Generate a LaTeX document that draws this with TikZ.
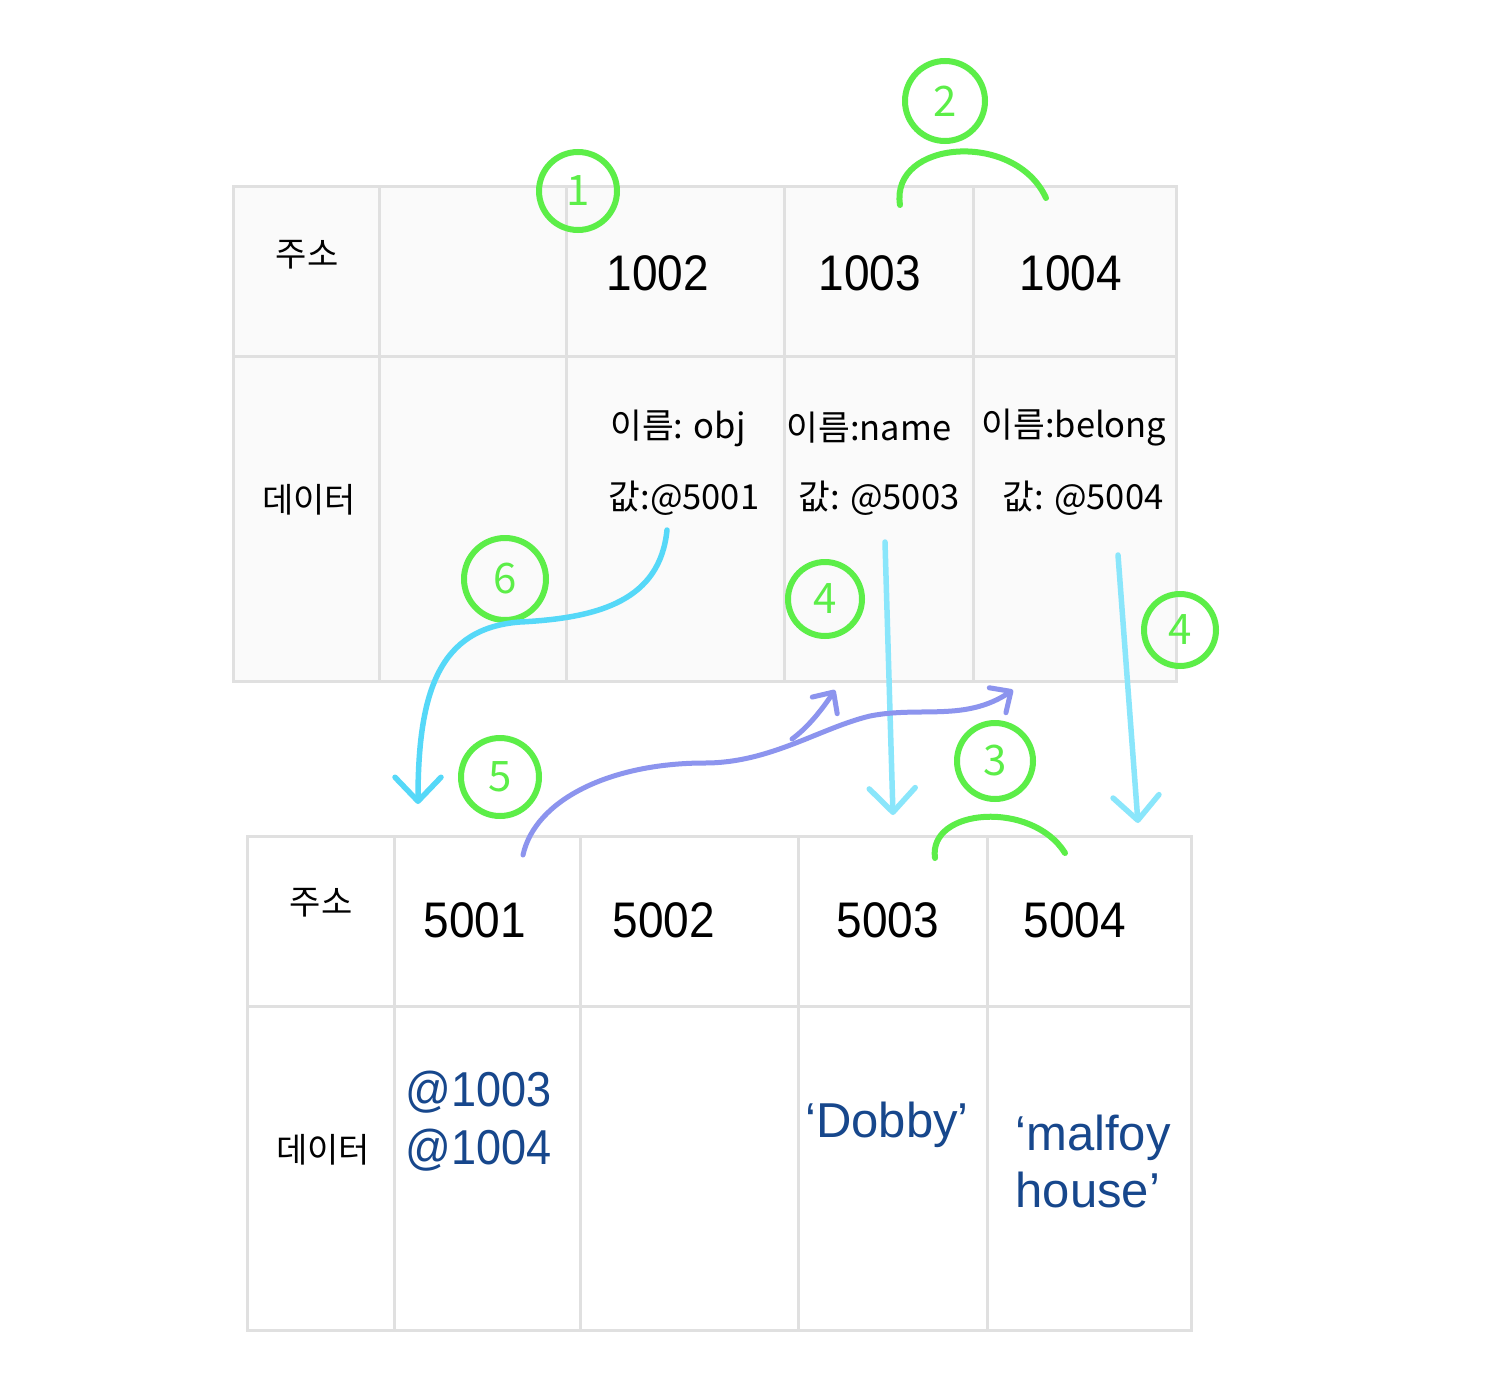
\documentclass[tikz,border=0pt]{standalone}
\usepackage{fontspec}
\setmainfont{Liberation Sans}[FakeStretch=0.92]
\newfontfamily\plainsans{Liberation Sans}
\newfontfamily\kr{Noto Sans CJK KR}
\usetikzlibrary{arrows.meta}
\definecolor{gridc}{HTML}{E0E0E0}
\definecolor{cellbg}{HTML}{FAFAFA}
\definecolor{hgreen}{HTML}{5CEE48}
\definecolor{cyanA}{HTML}{55D8F8}
\definecolor{cyanB}{HTML}{8AE6FB}
\definecolor{purp}{HTML}{8C94EE}
\definecolor{valblue}{HTML}{17478C}
\begin{document}
\begin{tikzpicture}[x=1pt,y=-1pt,
  gridline/.style={draw=gridc,line width=3pt},
  addr/.style={font=\fontsize{50}{60}\selectfont},
  krlab/.style={font=\kr\fontsize{34.5}{40}\selectfont},
  cell/.style={font=\kr\fontsize{34}{40}\selectfont},
  val/.style={font=\fontsize{49}{57}\selectfont,text=valblue},
  strval/.style={font=\plainsans\fontsize{49}{57}\selectfont,text=valblue},
  hc/.style={circle,draw=hgreen,line width=6pt,inner sep=0pt,text=hgreen,font=\kr\fontsize{42}{42}\selectfont},
  brace/.style={draw=hgreen,line width=6pt,line cap=round},
  cyarrow/.style={line width=5.5pt,line cap=round,line join=round,-{Straight Barb[length=24pt,width=46pt,line cap=round,line join=round]}},
  parrow/.style={draw=purp,line width=5pt,line cap=round,line join=round,-{Straight Barb[length=16pt,width=30pt,line cap=round,line join=round]}}
]
\useasboundingbox (0,0) rectangle (1502,1386);
\fill[white] (0,0) rectangle (1502,1386);

% top table
\fill[cellbg] (233,186) rectangle (1176,681);
\draw[gridline] (233,186) rectangle (1176,681);
\draw[gridline] (233,356) -- (1176,356);
\foreach \x in {379,566,784,973} \draw[gridline] (\x,186) -- (\x,681);

% bottom table
\draw[gridline] (247,836) rectangle (1191,1330);
\draw[gridline] (247,1006) -- (1191,1006);
\foreach \x in {394,580,798,987} \draw[gridline] (\x,836) -- (\x,1330);

% top table text
\node[cell] (tA) at (307,255) {주소};
\node[addr] (a1002) at (658,273) {1002};
\node[addr] (a1003) at (870,273) {1003};
\node[addr] (a1004) at (1071,273) {1004};
\node[cell] (tD) at (309,500) {데이터};
\node[krlab] (n1) at (678,428) {이름: obj};
\node[krlab] (v1) at (684,498) {값:@5001};
\node[krlab] (n2) at (869,428) {이름:name};
\node[krlab] (v2) at (879,498) {값: @5003};
\node[krlab] (n3) at (1074,428) {이름:belong};
\node[krlab] (v3) at (1083,498) {값: @5004};

% bottom table text
\node[cell] (bA) at (321,903) {주소};
\node[addr] (a5001) at (475,920) {5001};
\node[addr] (a5002) at (664,920) {5002};
\node[addr] (a5003) at (888,920) {5003};
\node[addr] (a5004) at (1075,920) {5004};
\node[cell] (bD) at (323,1150) {데이터};
\node[val] (r1) at (479,1092) {@1003};
\node[val] (r2) at (479,1150) {@1004};
\node[strval] (dob) at (887,1125) {‘Dobby’};
\node[strval,anchor=west,align=left] (mal) at (1012,1161) {‘malfoy\\house’};

% green circled numbers
\node[hc,minimum size=78pt] (c1) at (578,191) {1};
\node[hc,minimum size=80pt] (c2) at (945,101) {2};
\node[hc,minimum size=76pt] (c3) at (995,761) {3};
\node[hc,minimum size=74pt] (c4a) at (825,599) {4};
\node[hc,minimum size=72pt] (c4b) at (1180,630) {4};
\node[hc,minimum size=78pt] (c5) at (500,777) {5};
\node[hc,minimum size=82pt] (c6) at (505,579) {6};

% green braces
\coordinate (b2l) at (900,205);
\coordinate (b2r) at (1046,198);
\draw[brace] (b2l) .. controls (890,140) and (1015,130) .. (b2r);
\coordinate (b3l) at (935,858);
\coordinate (b3r) at (1065,853);
\draw[brace] (b3l) .. controls (928,808) and (1032,800) .. (b3r);

% cyan arrows
\coordinate (s6) at (667,530);
\coordinate (m6) at (520,622);
\coordinate (e6) at (418,804);
\draw[cyarrow,draw=cyanA] (s6) .. controls (660,600) and (600,618) .. (m6)
   .. controls (440,628) and (418,690) .. (e6);
\coordinate (s3) at (885,542);
\coordinate (e3) at (893,815);
\draw[cyarrow,draw=cyanB] (s3) -- (e3);
\coordinate (s4) at (1118,555);
\coordinate (e4) at (1138,823);
\draw[cyarrow,draw=cyanB] (s4) -- (e4);

% purple arrows
\coordinate (p0) at (523,855);
\coordinate (p1) at (705,763);
\coordinate (pb) at (792,739);
\coordinate (p2) at (870,716);
\coordinate (pe1) at (835,690);
\coordinate (pe2) at (1013,690);
\draw[parrow] (p0) .. controls (535,800) and (610,763) .. (p1)
   .. controls (770,763) and (820,728) .. (p2)
   .. controls (920,706) and (965,722) .. (pe2);
\draw[parrow] (pb) .. controls (810,726) and (825,705) .. (pe1);
\end{tikzpicture}
\end{document}
